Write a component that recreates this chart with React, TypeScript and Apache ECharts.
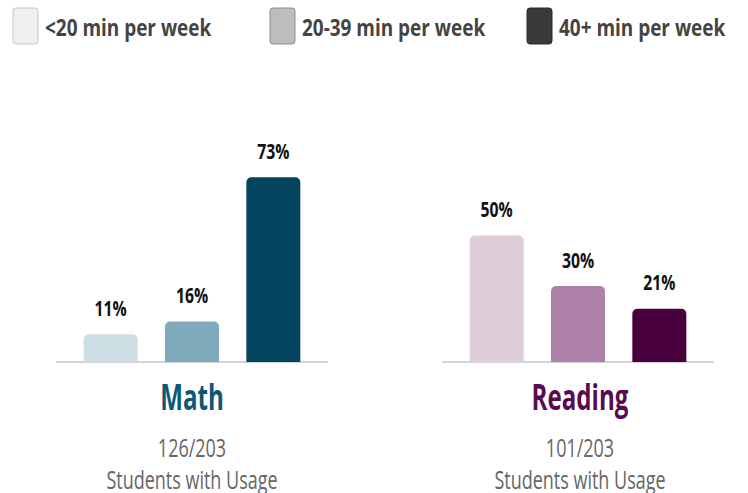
import React, { useEffect, useRef } from "react";
import * as echarts from "echarts";

const LEVELS = ["<20 min per week", "20-39 min per week", "40+ min per week"];
const SUBJECTS = ["Math", "Reading"];
const MATH_VALUES = [11, 16, 73];
const READING_VALUES = [50, 30, 21];
const USAGE = ["126/203", "101/203"];
const USAGE_LABEL = "Students with Usage";

const MATH_COLORS = ["#cddfe5", "#7eaabc", "#03445f"];
const READING_COLORS = ["#dfcdd9", "#ae80a8", "#4a003c"];
const TITLE_COLORS = ["#0e5777", "#5c0a4f"];
const LEGEND_SWATCH = [
  { fill: "#efefef", stroke: "#c8c8c8" },
  { fill: "#bdbdbd", stroke: "#8f8f8f" },
  { fill: "#3a3a3a", stroke: "#2a2a2a" },
];
const LEGEND_LEFT = [13, 270, 527];

const FONT = '"Open Sans", sans-serif';
const CONDENSE = 0.76;

export default function App() {
  const ref = useRef<HTMLDivElement>(null);

  useEffect(() => {
    if (!ref.current) return;
    const chart = echarts.init(ref.current, undefined, { renderer: "svg" });

    const gridDefs = [
      { left: 57, width: 270, top: 109, height: 253 },
      { left: 443, width: 270, top: 109, height: 253 },
    ];
    const values = [MATH_VALUES, READING_VALUES];
    const colors = [MATH_COLORS, READING_COLORS];

    const series: any[] = [];
    for (let g = 0; g < 2; g++) {
      for (let i = 0; i < LEVELS.length; i++) {
        series.push({
          type: "bar",
          name: LEVELS[i],
          xAxisIndex: g,
          yAxisIndex: g,
          data: [[i, values[g][i]]],
          barWidth: 54,
          barGap: "-100%",
          itemStyle: { color: colors[g][i], borderRadius: [5, 5, 0, 0] },
          emphasis: { disabled: true },
          silent: true,
        });
      }
      // value labels, condensed horizontally like the reference typeface
      series.push({
        type: "custom",
        name: "labels-" + g,
        xAxisIndex: g,
        yAxisIndex: g,
        silent: true,
        z: 5,
        data: values[g].map((v, i) => [i, v]),
        renderItem: (_params: any, api: any) => {
          const xv = api.value(0);
          const yv = api.value(1);
          const p = api.coord([xv, yv]);
          return {
            type: "text",
            x: p[0],
            y: p[1] - 27,
            scaleX: 0.75,
            style: {
              text: yv + "%",
              align: "center",
              verticalAlign: "middle",
              fontSize: 21,
              fontWeight: "bold",
              fontFamily: FONT,
              fill: "#111111",
            },
          };
        },
      });
    }

    const graphic: any[] = [];
    // legend
    LEVELS.forEach((name, i) => {
      graphic.push({
        type: "rect",
        x: LEGEND_LEFT[i],
        y: 8,
        shape: { x: 0, y: 0, width: 25, height: 36, r: 3 },
        style: { fill: LEGEND_SWATCH[i].fill, stroke: LEGEND_SWATCH[i].stroke, lineWidth: 1 },
      });
      graphic.push({
        type: "text",
        x: LEGEND_LEFT[i] + 32,
        y: 27,
        scaleX: 0.79,
        style: {
          text: name,
          fill: "#444444",
          fontSize: 24,
          fontWeight: "bold",
          fontFamily: FONT,
          align: "left",
          verticalAlign: "middle",
        },
      });
    });

    SUBJECTS.forEach((s, g) => {
      const cx = gridDefs[g].left + gridDefs[g].width / 2 + (g === 1 ? 2 : 0);
      graphic.push({
        type: "text",
        x: cx,
        y: 397,
        scaleX: 0.69,
        style: {
          text: s,
          fill: TITLE_COLORS[g],
          fontSize: 35,
          fontWeight: "bold",
          fontFamily: FONT,
          align: "center",
          verticalAlign: "middle",
        },
      });
      graphic.push({
        type: "text",
        x: cx,
        y: 447,
        scaleX: 0.72,
        style: {
          text: USAGE[g],
          fill: "#666666",
          fontSize: 25,
          fontFamily: FONT,
          align: "center",
          verticalAlign: "middle",
        },
      });
      graphic.push({
        type: "text",
        x: cx,
        y: 479,
        scaleX: 0.72,
        style: {
          text: USAGE_LABEL,
          fill: "#666666",
          fontSize: 25,
          fontFamily: FONT,
          align: "center",
          verticalAlign: "middle",
        },
      });
    });

    chart.setOption({
      animation: false,
      backgroundColor: "#ffffff",
      grid: gridDefs,
      xAxis: gridDefs.map((_, g) => ({
        type: "value",
        gridIndex: g,
        min: -0.66,
        max: 2.66,
        axisLine: { show: true, lineStyle: { color: "#d3d3db", width: 2 } },
        axisTick: { show: false },
        axisLabel: { show: false },
        splitLine: { show: false },
      })),
      yAxis: gridDefs.map((_, g) => ({
        type: "value",
        gridIndex: g,
        min: 0,
        max: 100,
        show: false,
        splitLine: { show: false },
      })),
      series,
      graphic,
    });

    return () => chart.dispose();
  }, []);

  return (
    <div
      ref={ref}
      style={{ position: "fixed", left: 0, top: 0, width: 748, height: 493 }}
    />
  );
}
